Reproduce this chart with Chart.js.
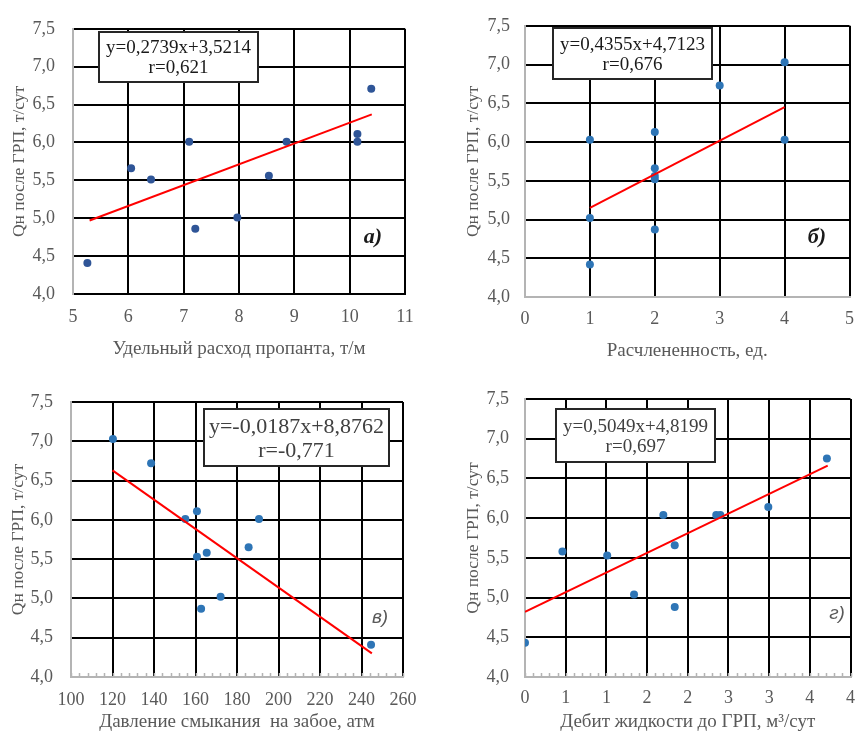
<!DOCTYPE html>
<html lang="ru">
<head>
<meta charset="utf-8">
<title>Qн после ГРП</title>
<script src="https://cdn.jsdelivr.net/npm/chart.js@4.4.1/dist/chart.umd.min.js"></script>
<style>
  html, body { margin: 0; padding: 0; background: #fff; }
  #sheet { position: relative; width: 865px; height: 733px; }
  canvas { position: absolute; }
</style>
</head>
<body>
<div id="sheet">
  <canvas id="panelA" width="432" height="366" style="left:0px;top:0px"></canvas>
  <canvas id="panelB" width="433" height="366" style="left:432px;top:0px"></canvas>
  <canvas id="panelC" width="432" height="367" style="left:0px;top:366px"></canvas>
  <canvas id="panelD" width="433" height="367" style="left:432px;top:366px"></canvas>
</div>
<script>
// Common y axis: oil rate after fracturing
const qTicks = [4.0, 4.5, 5.0, 5.5, 6.0, 6.5, 7.0, 7.5];
const qTickLabels = ['4,0', '4,5', '5,0', '5,5', '6,0', '6,5', '7,0', '7,5'];

// а) specific proppant consumption
const propantX = [5.26, 6.05, 6.41, 7.10, 7.21, 7.97, 8.54, 8.86, 10.14, 10.14, 10.39];
const propantY = [4.41, 5.66, 5.51, 6.01, 4.86, 5.01, 5.56, 6.01, 6.11, 6.01, 6.71];
const propantTrendX = [5.3, 10.4];
const propantTrendY = [4.97, 6.37];
const propantTicks = [5, 6, 7, 8, 9, 10, 11];
const propantTickLabels = ['5', '6', '7', '8', '9', '10', '11'];

// б) number of layers
const layersX = [1, 1, 1, 2, 2, 2, 2, 2, 3, 4, 4];
const layersY = [6.03, 5.02, 4.42, 6.13, 5.66, 5.56, 5.52, 4.87, 6.73, 7.03, 6.03];
const layersTrendX = [1, 4];
const layersTrendY = [5.15, 6.45];
const layersTicks = [0, 1, 2, 3, 4, 5];
const layersTickLabels = ['0', '1', '2', '3', '4', '5'];

// в) closure pressure at bottomhole
const pressureX = [120.2, 138.6, 155.1, 160.7, 160.7, 165.4, 162.7, 172.1, 185.6, 190.6, 244.6];
const pressureY = [7.03, 6.72, 6.01, 6.11, 5.53, 5.58, 4.87, 5.02, 5.65, 6.01, 4.41];
const pressureTrendX = [120, 245];
const pressureTrendY = [6.63, 4.30];
const pressureTicks = [100, 120, 140, 160, 180, 200, 220, 240, 260];
const pressureTickLabels = ['100', '120', '140', '160', '180', '200', '220', '240', '260'];

// г) liquid rate before fracturing
const liquidX = [0, 0.46, 1.01, 1.34, 1.70, 1.84, 1.84, 2.35, 2.40, 2.99, 3.71];
const liquidY = [4.43, 5.58, 5.53, 5.04, 6.04, 5.66, 4.88, 6.04, 6.04, 6.14, 6.75];
const liquidTrendX = [0, 3.72];
const liquidTrendY = [4.82, 6.66];
const liquidTicks = [0, 0.5, 1, 1.5, 2, 2.5, 3, 3.5, 4];
const liquidTickLabels = ['0', '1', '1', '2', '2', '3', '3', '4', '4'];

const AXIS_GRAY = '#b4b4b4';
const TEXT_GRAY = '#595959';
const SERIF = '"Liberation Serif", "Times New Roman", serif';

function toPoints(xs, ys) {
    return xs.map((x, i) => ({ x: x, y: ys[i] }));
}

/**
 * Draws the equation box, the panel letter and minor ticks of the x axis
 */
const panelNotes = {
    id: 'panelNotes',
    afterDraw(chart, args, opts) {
        const ctx = chart.ctx;
        const area = chart.chartArea;
        ctx.save();

        // minor tick marks on the bottom axis
        if (opts.minorStep) {
            const xs = chart.scales.x;
            ctx.strokeStyle = AXIS_GRAY;
            ctx.lineWidth = 1.5;
            ctx.beginPath();
            for (let v = xs.min; v <= xs.max + 1e-9; v += opts.minorStep) {
                const px = Math.round(xs.getPixelForValue(v)) + 0.5;
                ctx.moveTo(px, area.bottom);
                ctx.lineTo(px, area.bottom - 4);
            }
            ctx.stroke();
        }

        // equation box
        const b = opts.box;
        ctx.fillStyle = '#fff';
        ctx.fillRect(b.x, b.y, b.w, b.h);
        ctx.strokeStyle = '#262626';
        ctx.lineWidth = 2;
        ctx.strokeRect(b.x, b.y, b.w, b.h);
        ctx.fillStyle = opts.textColor;
        ctx.font = opts.textSize + 'px ' + SERIF;
        ctx.textAlign = 'center';
        ctx.textBaseline = 'middle';
        opts.lines.forEach((line, i) => {
            ctx.fillText(line, b.x + b.w / 2, opts.lineY[i]);
        });

        // panel letter
        const lab = opts.label;
        ctx.fillStyle = lab.color;
        ctx.font = lab.font;
        ctx.fillText(lab.text, lab.x, lab.y);
        ctx.restore();
    }
};

/**
 * Builds one scatter panel with its trend line
 */
function makePanel(canvasId, p) {
    const tickFont = { family: SERIF, size: 18 };
    return new Chart(document.getElementById(canvasId), {
        type: 'scatter',
        data: {
            datasets: [{
                data: toPoints(p.trendX, p.trendY),
                type: 'line',
                borderColor: '#ff0000',
                borderWidth: 2,
                pointRadius: 0,
                fill: false,
                order: 0
            }, {
                data: toPoints(p.x, p.y),
                backgroundColor: p.dot,
                borderWidth: 0,
                pointRadius: 4,
                pointHoverRadius: 4,
                order: 1
            }]
        },
        options: {
            responsive: false,
            animation: false,
            devicePixelRatio: 1,
            layout: { padding: { left: 0, top: p.top, right: p.right, bottom: 0 } },
            plugins: {
                legend: { display: false },
                tooltip: { enabled: false },
                panelNotes: p.notes
            },
            scales: {
                x: {
                    type: 'linear',
                    min: p.xTicks[0],
                    max: p.xTicks[p.xTicks.length - 1],
                    afterBuildTicks: s => { s.ticks = p.xTicks.map(v => ({ value: v })); },
                    afterFit: s => { s.height = p.xAxisH; },
                    grid: {
                        color: c => c.index === 0 ? AXIS_GRAY : '#000',
                        lineWidth: 2,
                        drawTicks: false
                    },
                    border: { color: p.bottomColor, width: 2 },
                    ticks: {
                        font: tickFont,
                        color: TEXT_GRAY,
                        padding: p.xTickPad,
                        maxRotation: 0,
                        autoSkip: false,
                        callback: (v, i) => p.xLabels[i]
                    },
                    title: {
                        display: true,
                        text: p.xTitle,
                        color: TEXT_GRAY,
                        font: { family: SERIF, size: 19 },
                        padding: { top: 0, bottom: p.xTitlePad }
                    }
                },
                y: {
                    type: 'linear',
                    min: 4,
                    max: 7.5,
                    afterBuildTicks: s => { s.ticks = qTicks.map(v => ({ value: v })); },
                    afterFit: s => { s.width = p.left; },
                    grid: {
                        color: c => c.index === 0 ? p.bottomColor : '#000',
                        lineWidth: 2,
                        drawTicks: false
                    },
                    border: { color: AXIS_GRAY, width: 2 },
                    ticks: {
                        font: tickFont,
                        color: TEXT_GRAY,
                        padding: p.yTickPad,
                        callback: (v, i) => qTickLabels[i]
                    },
                    title: {
                        display: true,
                        text: 'Qн после ГРП, т/сут',
                        color: TEXT_GRAY,
                        font: { family: SERIF, size: 17.5 },
                        padding: { top: p.yTitlePad, bottom: 0 }
                    }
                }
            }
        },
        plugins: [panelNotes]
    });
}

document.addEventListener('DOMContentLoaded', function() {
    makePanel('panelA', {
        x: propantX, y: propantY, trendX: propantTrendX, trendY: propantTrendY,
        xTicks: propantTicks, xLabels: propantTickLabels,
        xTitle: 'Удельный расход пропанта, т/м',
        dot: '#2f5597', bottomColor: '#000',
        left: 73, right: 27, top: 15, xAxisH: 72,
        xTickPad: 12, xTitlePad: 6, yTickPad: 18, yTitlePad: 9,
        notes: {
            box: { x: 99, y: 32, w: 159, h: 50 },
            lines: ['y=0,2739x+3,5214', 'r=0,621'], lineY: [48, 68],
            textSize: 19, textColor: '#1a1a1a',
            label: { text: 'а)', x: 373, y: 237, color: '#1a1a1a', font: 'italic bold 22px ' + SERIF }
        }
    });

    makePanel('panelB', {
        x: layersX, y: layersY, trendX: layersTrendX, trendY: layersTrendY,
        xTicks: layersTicks, xLabels: layersTickLabels,
        xTitle: 'Расчлененность, ед.',
        dot: '#2e75b6', bottomColor: AXIS_GRAY,
        left: 93, right: 8, top: 15, xAxisH: 69,
        xTickPad: 11, xTitlePad: 4, yTickPad: 15, yTitlePad: 31,
        notes: {
            box: { x: 121, y: 28, w: 159, h: 51 },
            lines: ['y=0,4355x+4,7123', 'r=0,676'], lineY: [45, 65],
            textSize: 19, textColor: '#1a1a1a',
            label: { text: 'б)', x: 385, y: 237, color: '#1a1a1a', font: 'italic bold 22px ' + SERIF }
        }
    });

    makePanel('panelC', {
        x: pressureX, y: pressureY, trendX: pressureTrendX, trendY: pressureTrendY,
        xTicks: pressureTicks, xLabels: pressureTickLabels,
        xTitle: 'Давление смыкания  на забое, атм',
        dot: '#2e75b6', bottomColor: AXIS_GRAY,
        left: 71, right: 29, top: 36, xAxisH: 56,
        xTickPad: 12, xTitlePad: 0, yTickPad: 18, yTitlePad: 8,
        notes: {
            box: { x: 204, y: 43, w: 185, h: 57 },
            lines: ['y=-0,0187x+8,8762', 'r=-0,771'], lineY: [61, 85],
            textSize: 22, textColor: '#404040', minorStep: 4,
            label: { text: 'в)', x: 380, y: 252, color: TEXT_GRAY, font: 'italic 19px "Liberation Sans", Arial, sans-serif' }
        }
    });

    makePanel('panelD', {
        x: liquidX, y: liquidY, trendX: liquidTrendX, trendY: liquidTrendY,
        xTicks: liquidTicks, xLabels: liquidTickLabels,
        xTitle: 'Дебит жидкости до ГРП, м³/сут',
        dot: '#2e75b6', bottomColor: AXIS_GRAY,
        left: 93, right: 6, top: 33, xAxisH: 56,
        xTickPad: 10, xTitlePad: 0, yTickPad: 16, yTitlePad: 31,
        notes: {
            box: { x: 124, y: 43, w: 159, h: 53 },
            lines: ['y=0,5049x+4,8199', 'r=0,697'], lineY: [61, 81],
            textSize: 19, textColor: '#404040', minorStep: 0.1,
            label: { text: 'г)', x: 405, y: 248, color: TEXT_GRAY, font: 'italic 19px "Liberation Sans", Arial, sans-serif' }
        }
    });
});
</script>
</body>
</html>
